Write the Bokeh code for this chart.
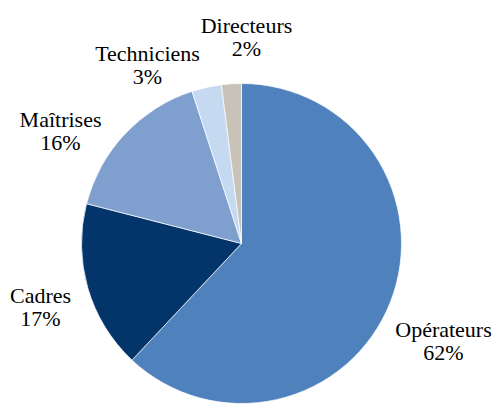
import numpy as np
from bokeh.plotting import figure
from bokeh.models import Range1d, ColumnDataSource
from bokeh.core.properties import value
from bokeh.embed import file_html
from bokeh.resources import INLINE

categories = ["Opérateurs", "Cadres", "Maîtrises", "Techniciens", "Directeurs"]
shares = [62, 17, 16, 3, 2]
colors = ["#4F81BD", "#03346A", "#7FA0CF", "#C5D9F1", "#C8C2B8"]

# label placement (layout, data units where pie radius = 1)
label_x = [1.2625, -1.256, -1.131, -0.5875, 0.031]
label_y = [-0.609, -0.397, 0.703, 1.116, 1.291]

W, H = 496, 405
scale = 160.0
cx, cy = 241.0, 243.0

total = float(sum(shares))
frac = np.array(shares) / total
ends = np.cumsum(frac)
starts = ends - frac
start_angle = np.pi / 2 - starts * 2 * np.pi
end_angle = np.pi / 2 - ends * 2 * np.pi

src = ColumnDataSource(dict(
    start=start_angle, end=end_angle, color=colors,
    lx=label_x, ly=label_y,
    txt=[f"{c}\n{s}%" for c, s in zip(categories, shares)],
))

p = figure(width=W, height=H, output_backend="svg", toolbar_location=None,
           x_range=Range1d(-cx / scale, (W - cx) / scale),
           y_range=Range1d(-(H - cy) / scale, cy / scale),
           min_border=0)
p.axis.visible = False
p.grid.visible = False
p.outline_line_color = None
p.background_fill_color = "white"
p.border_fill_color = "white"

p.wedge(x=0, y=0, radius=1, start_angle="start", end_angle="end",
        direction="clock", fill_color="color", line_color="white",
        line_width=0.7, source=src)

p.text(x="lx", y="ly", text="txt", source=src, text_align="center",
       text_baseline="middle", text_font=value("Liberation Serif"),
       text_font_size="22px", text_color="black", text_line_height=0.94)

open("out.html", "w").write(file_html(p, INLINE))
